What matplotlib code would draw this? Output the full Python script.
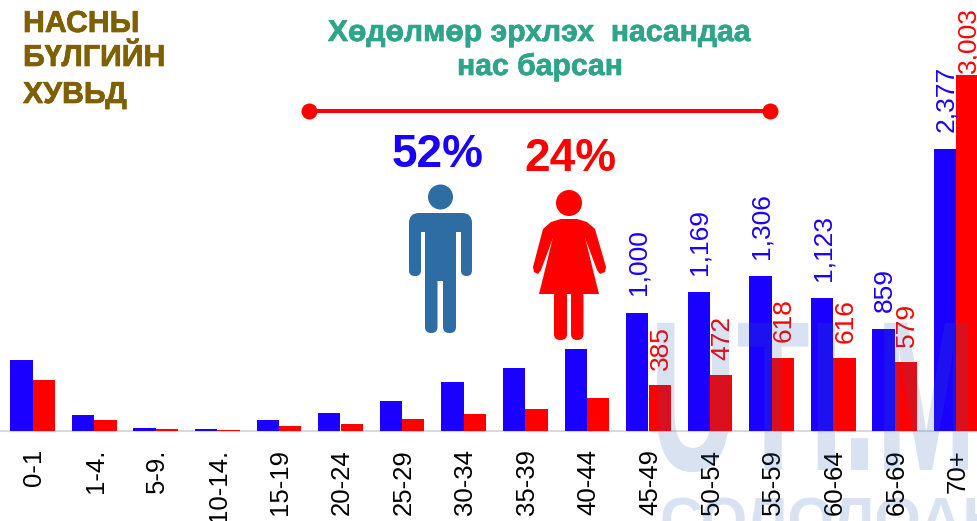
import matplotlib
matplotlib.use("Agg")
import matplotlib.pyplot as plt
import matplotlib.patheffects as pe
from matplotlib.patches import Polygon, FancyBboxPatch, Circle, Rectangle
from matplotlib.transforms import Affine2D, ScaledTranslation
import numpy as np

W, H = 977, 521
plt.rcParams["font.family"] = ["Liberation Sans", "DejaVu Sans"]

categories = ["0-1", "1-4.", "5-9.", "10-14.", "15-19", "20-24", "25-29", "30-34",
              "35-39", "40-44", "45-49", "50-54", "55-59", "60-64", "65-69", "70+"]
male = [600, 135, 28, 14, 93, 152, 253, 411, 532, 692, 1000, 1169, 1306, 1123, 859, 2377]
female = [430, 93, 14, 8, 40, 62, 99, 143, 186, 278, 385, 472, 618, 616, 579, 3003]
labeled_from = 10

BLUE = "#1a00ff"
RED = "#ff0000"
TEAL = "#2ea58a"
BROWN = "#7f6000"


class XScale(pe.AbstractPathEffect):
    """Narrows a real text object horizontally around a pixel anchor."""
    def __init__(self, sx, x0):
        super().__init__()
        self.sx, self.x0 = sx, x0

    def draw_path(self, renderer, gc, tpath, affine, rgbFace=None):
        t = affine + Affine2D().translate(-self.x0, 0).scale(self.sx, 1).translate(self.x0, 0)
        renderer.draw_path(gc, tpath, t, rgbFace)


fig = plt.figure(figsize=(W / 100, H / 100), dpi=100)
fig.patch.set_facecolor("white")

BASE_PX = 431
ax = fig.add_axes([0, 1 - BASE_PX / H, 1, BASE_PX / H])
STEP = 61.6
X0 = 32.5
ax.set_xlim(-X0 / STEP, (W - X0) / STEP)
ax.set_ylim(0, BASE_PX / 0.1185)
ax.patch.set_alpha(0)
for s in ("top", "left", "right"):
    ax.spines[s].set_visible(False)
ax.spines["bottom"].set_color("#d9d9d9")
ax.spines["bottom"].set_linewidth(1.5)
ax.spines["bottom"].set_zorder(1)
ax.set_yticks([])

x = np.arange(len(categories))
bw = 22.4 / STEP
ax.bar(x - bw / 2, male, bw, color=BLUE, zorder=2, clip_on=False)
ax.bar(x + bw / 2, female, bw, color=RED, zorder=2, clip_on=False)

ax.set_xticks(x)
ax.set_xticklabels(categories, rotation=90, fontsize=18.5, color="black", va="top", ha="center")
ax.tick_params(axis="x", length=0, pad=13)
shift = ScaledTranslation(1.5 / 100, 0, fig.dpi_scale_trans)
for lab in ax.get_xticklabels():
    lab.set_transform(lab.get_transform() + shift)

for i in range(labeled_from, len(categories)):
    ax.annotate(f"{male[i]:,}", (x[i] - bw / 2, male[i]), xytext=(0.7, 12.5), textcoords="offset points",
                rotation=90, ha="center", va="bottom", color=BLUE, fontsize=19, zorder=5)
    dy = 1.5 if female[i] == max(female) else 11
    ax.annotate(f"{female[i]:,}", (x[i] + bw / 2, female[i]), xytext=(0.7, dy), textcoords="offset points",
                rotation=90, ha="center", va="bottom", color=RED, fontsize=19, zorder=5,
                annotation_clip=False)

ov = fig.add_axes([0, 0, 1, 1], zorder=10)
ov.set_xlim(0, W)
ov.set_ylim(H, 0)
ov.axis("off")
ov.patch.set_alpha(0)

# Watermark
ov.text(650, 470, "UTI.MN", fontsize=154, fontweight="bold", color="#2f63ad", alpha=0.18,
        ha="left", va="baseline", path_effects=[XScale(0.56, 650)])
ov.text(660, 539, "СОЛОЛОАНЫ", fontsize=43, fontweight="bold", color="#2f63ad", alpha=0.18,
        ha="left", va="baseline", clip_on=True)

# Corner caption
heavy_brown = [pe.withStroke(linewidth=0.5, foreground=BROWN)]
for txt, yy in zip(["НАСНЫ", "БҮЛГИЙН", "ХУВЬД"], [24, 58, 95]):
    ov.text(23, yy, txt, fontsize=21.8, fontweight="bold", color=BROWN, ha="left", va="center",
            path_effects=heavy_brown)

# Heading
heavy_teal = [pe.withStroke(linewidth=0.5, foreground=TEAL)]
ov.text(539, 33, "Хөдөлмөр эрхлэх  насандаа", fontsize=21.7, fontweight="bold", color=TEAL,
        ha="center", va="center", path_effects=heavy_teal)
ov.text(540, 67, "нас барсан", fontsize=21.7, fontweight="bold", color=TEAL,
        ha="center", va="center", path_effects=heavy_teal)

# Range line
ov.plot([309, 770], [110.5, 110.5], color=RED, lw=2.9, marker="o", ms=10.5, solid_capstyle="butt")

# Percentages
ov.text(438, 155, "52%", fontsize=33, fontweight="bold", color=BLUE, ha="center", va="center")
ov.text(570, 159, "24%", fontsize=33, fontweight="bold", color=RED, ha="center", va="center")

# Man icon
MAN = "#2e6ca4"
def rbox(x0, y0, x1, y1, r, c):
    ov.add_patch(FancyBboxPatch((x0 + r, y0 + r), x1 - x0 - 2 * r, y1 - y0 - 2 * r,
                                boxstyle=f"round,pad={r},rounding_size={r}", fc=c, ec="none"))
ov.add_patch(Circle((440.5, 197), 12.5, fc=MAN, ec="none"))
rbox(409, 213, 472, 260, 10, MAN)
ov.add_patch(Rectangle((421, 232), 4, 45, fc="white", ec="none", zorder=3))
ov.add_patch(Rectangle((456, 232), 5, 45, fc="white", ec="none", zorder=3))
rbox(409, 225, 421, 276, 5.5, MAN)
rbox(461, 225, 472, 276, 5.5, MAN)
ov.add_patch(Rectangle((425, 225), 31, 56, fc=MAN, ec="none", zorder=4))
rbox(425, 270, 437.5, 333, 6, MAN)
rbox(443, 270, 456, 333, 6, MAN)

# Woman icon
ov.add_patch(Circle((569, 203), 13, fc=RED, ec="none"))
ov.add_patch(Polygon([[553, 237], [545, 270], [539, 294], [599, 294], [593, 270], [585, 237],
                      [585, 222], [553, 222]], closed=True, fc=RED, ec="none"))
ov.add_patch(Polygon([[561, 219], [577, 219], [587, 222], [595, 229], [606, 267], [605, 272],
                      [600, 274], [597, 270], [585, 238], [553, 238], [541, 270], [538, 274],
                      [534, 272], [533, 267], [543, 229], [551, 222]], closed=True, fc=RED, ec="none"))
rbox(554, 290, 567, 340, 6, RED)
rbox(571, 290, 583.5, 340, 6, RED)

fig.savefig("out.png", dpi=100)
